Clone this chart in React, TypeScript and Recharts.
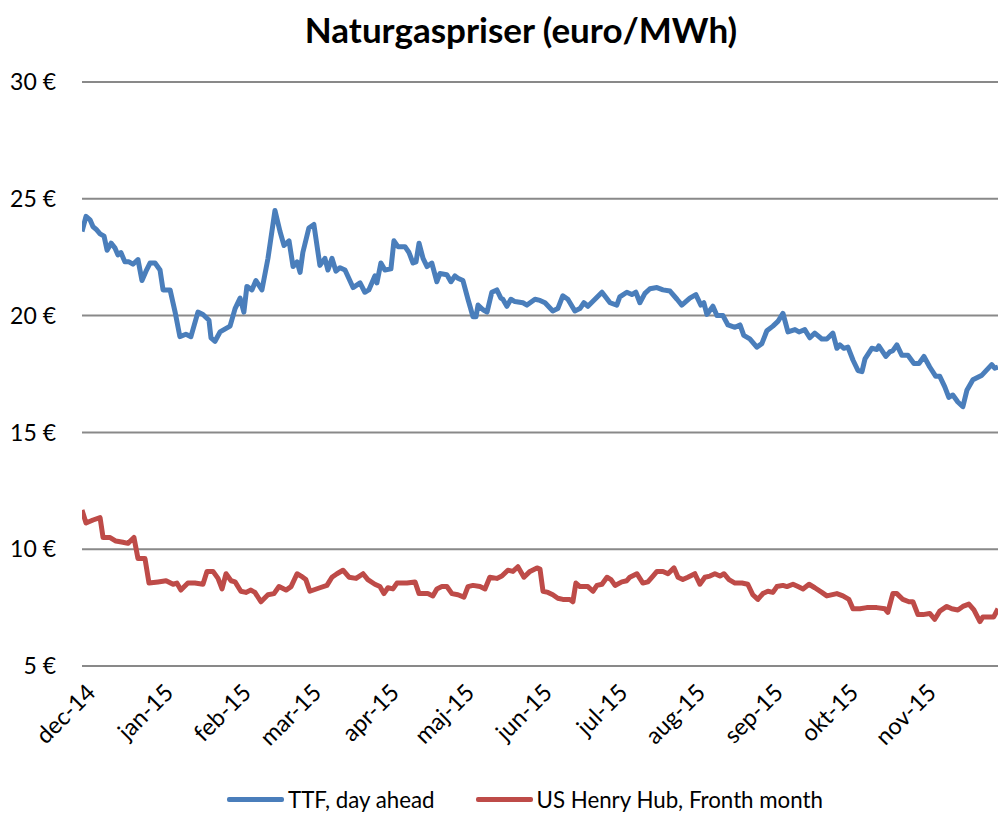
import { LineChart, Line, XAxis, YAxis, CartesianGrid, Legend } from "recharts";

const FONT = "Lato, 'Noto Sans', sans-serif";

// month starts, counted in days from 1 dec 2014
const monthTicks = [0, 31, 62, 90, 121, 151, 182, 212, 243, 274, 304, 335];
const monthLabels = ["dec-14", "jan-15", "feb-15", "mar-15", "apr-15", "maj-15", "jun-15", "jul-15", "aug-15", "sep-15", "okt-15", "nov-15"];
const yTicks = [5, 10, 15, 20, 25, 30];

const seriesNames = ["TTF, day ahead", "US Henry Hub, Fronth month"];
const seriesColors = ["#4a7ebb", "#be4b48"];

const ttfDays = [
  0, 1.6, 3.2, 4.4, 5.6, 7.2, 8.8, 10, 11.6, 13.1,
  14.3, 15.5, 17.1, 18.7, 20.3, 22.3, 23.9, 25.5, 27.1, 29.1,
  31.1, 32.3, 35.1, 37.1, 39, 41.4, 43.4, 46.2, 48.2, 50.6,
  51.4, 53, 55, 59, 61, 63, 64.5, 65.7, 67.7, 69.3,
  71.7, 74.1, 76.9, 78.9, 80.5, 82.5, 84.1, 85.7, 86.9, 88,
  90.4, 92.4, 94.8, 96.8, 98, 99.6, 101.2, 102.8, 104.8, 108,
  110.8, 112.7, 114.3, 116.7, 117.5, 119.1, 120.7, 123.1, 124.3, 125.9,
  128.7, 130.3, 131.9, 133.1, 134.3, 135.9, 137.5, 139.4, 141.4, 142.6,
  145.4, 147, 148.6, 149.8, 151.8, 153.8, 155.8, 157, 157.8, 159.8,
  161.4, 163.3, 165.3, 166.9, 167.7, 169.3, 170.9, 172.5, 175.7, 177.3,
  180.5, 182.5, 184.5, 187.6, 189.6, 191.6, 193.6, 196.4, 198.4, 200,
  201.6, 204.4, 207.2, 210.4, 213.1, 214.3, 217.1, 219.1, 220.7, 222.3,
  224.3, 226.3, 229.1, 231.5, 234.3, 237.1, 239, 242.2, 244.6, 246.6,
  247.8, 249, 251.4, 253, 255.4, 257.4, 260.2, 262.2, 263.7, 266.1,
  268.9, 270.9, 272.9, 275.3, 277.3, 279.3, 281.3, 284.1, 285.7, 288,
  290, 292, 294.8, 296.8, 299.2, 300.8, 302, 303.6, 305.2, 307.2,
  309.2, 310.8, 312, 314.7, 316.7, 317.5, 320.3, 321.9, 323.1, 324.7,
  326.7, 329.1, 331.5, 333.5, 335.5, 337.8, 340.2, 341.8, 343.8, 345.4,
  347, 349, 351, 352.6, 355, 358.6, 362.5, 363.7, 365,
];
const ttfValues = [
  23.6, 24.25, 24.1, 23.8, 23.7, 23.5, 23.4, 22.8, 23.1, 22.9,
  22.6, 22.7, 22.3, 22.3, 22.2, 22.4, 21.5, 21.9, 22.25, 22.25,
  21.95, 21.1, 21.1, 20.15, 19.1, 19.2, 19.1, 20.15, 20.05, 19.8,
  19.05, 18.9, 19.3, 19.55, 20.3, 20.75, 20.15, 21.25, 21.1, 21.5,
  21.1, 22.45, 24.5, 23.6, 23.0, 23.2, 22.1, 22.3, 21.85, 22.7,
  23.75, 23.9, 22.15, 22.45, 21.95, 22.45, 21.9, 22.05, 21.95, 21.2,
  21.4, 21.0, 21.1, 21.7, 21.4, 22.25, 21.95, 22.0, 23.2, 22.95,
  22.95, 22.7, 22.25, 22.3, 23.1, 22.45, 22.1, 22.25, 21.45, 21.8,
  21.75, 21.45, 21.7, 21.6, 21.5, 20.7, 19.95, 19.95, 20.45, 20.25,
  20.15, 21.0, 21.1, 20.75, 20.7, 20.4, 20.7, 20.6, 20.55, 20.45,
  20.7, 20.65, 20.55, 20.2, 20.3, 20.85, 20.7, 20.2, 20.3, 20.55,
  20.4, 20.7, 21.0, 20.55, 20.45, 20.8, 21.0, 20.9, 21.0, 20.55,
  20.95, 21.15, 21.2, 21.1, 21.05, 20.7, 20.45, 20.75, 20.9, 20.45,
  20.55, 20.05, 20.4, 20.0, 20.0, 19.6, 19.5, 19.6, 19.15, 19.0,
  18.65, 18.8, 19.35, 19.55, 19.75, 20.1, 19.3, 19.4, 19.3, 19.4,
  19.05, 19.25, 19.0, 19.0, 19.25, 18.6, 18.75, 18.6, 18.65, 18.1,
  17.65, 17.6, 18.15, 18.6, 18.55, 18.7, 18.25, 18.45, 18.5, 18.75,
  18.3, 18.3, 17.95, 17.95, 18.25, 17.8, 17.4, 17.4, 16.95, 16.5,
  16.6, 16.3, 16.1, 16.8, 17.25, 17.45, 17.9, 17.75, 17.8,
];

const hhDays = [
  0, 1.6, 4.4, 7.2, 8.4, 11.2, 13.5, 16.3, 18.3, 20.7,
  22.3, 25.1, 26.7, 30.3, 33.5, 36.3, 37.8, 39.4, 42.2, 45,
  48.2, 49.8, 52.2, 54.2, 55.8, 57.4, 59.4, 61, 63.3, 65.3,
  67.3, 68.9, 71.3, 74.1, 76.5, 78.5, 81.3, 83.3, 85.7, 87.3,
  89.2, 90.8, 94.8, 97.6, 99.6, 101.6, 104, 106.4, 109.2, 112,
  113.9, 116.7, 118.7, 120.3, 121.9, 123.9, 125.5, 129.5, 132.7, 134.3,
  137.8, 139.8, 141.4, 143.4, 145.4, 147.4, 149.8, 152.2, 153.8, 155.8,
  158.6, 160.6, 162.5, 165.3, 167.3, 169.7, 171.7, 173.7, 176.1, 178.5,
  181.3, 182.5, 183.7, 185.7, 187.6, 189.6, 191.6, 194.4, 195.6, 196.8,
  198.4, 201.6, 203.6, 205.2, 207.2, 209.2, 210.8, 212.4, 215.1, 217.1,
  218.3, 221.1, 223.5, 225.5, 227.5, 229.1, 231.5, 233.5, 235.9, 237.5,
  239.4, 241.4, 244.2, 246.2, 248.2, 250.2, 252.2, 254.2, 255.8, 257.8,
  260.2, 263, 265.3, 267.3, 269.3, 271.3, 273.3, 275.3, 276.9, 279.3,
  280.9, 283.3, 285.3, 287.3, 289.7, 292, 294.8, 296.8, 300.8, 303.2,
  305.6, 307.2, 310, 312.7, 316.7, 319.9, 321.1, 323.1, 324.7, 327.1,
  329.5, 331.1, 333.1, 335.1, 337.8, 339.8, 341.8, 344.6, 346.6, 349,
  351, 353.4, 355.4, 357.8, 359, 361.8, 363.3, 365,
];
const hhValues = [
  11.68, 11.12, 11.25, 11.35, 10.5, 10.5, 10.35, 10.3, 10.25, 10.5,
  9.6, 9.6, 8.55, 8.6, 8.65, 8.5, 8.55, 8.25, 8.55, 8.55,
  8.5, 9.05, 9.05, 8.75, 8.3, 8.95, 8.65, 8.6, 8.2, 8.15,
  8.25, 8.15, 7.75, 8.05, 8.1, 8.4, 8.25, 8.4, 8.95, 8.85,
  8.7, 8.2, 8.35, 8.45, 8.8, 8.95, 9.1, 8.8, 8.75, 8.95,
  8.7, 8.5, 8.4, 8.1, 8.35, 8.3, 8.55, 8.55, 8.6, 8.1,
  8.1, 8.0, 8.3, 8.4, 8.4, 8.1, 8.05, 7.95, 8.4, 8.45,
  8.4, 8.3, 8.8, 8.75, 8.85, 9.1, 9.05, 9.25, 8.8, 9.05,
  9.2, 9.15, 8.2, 8.15, 8.05, 7.9, 7.85, 7.85, 7.75, 8.55,
  8.4, 8.4, 8.2, 8.45, 8.5, 8.8, 8.7, 8.45, 8.6, 8.65,
  8.8, 8.95, 8.55, 8.6, 8.85, 9.05, 9.05, 8.95, 9.2, 8.8,
  8.7, 8.8, 8.95, 8.5, 8.8, 8.85, 8.95, 8.85, 8.95, 8.7,
  8.55, 8.55, 8.5, 8.05, 7.85, 8.1, 8.2, 8.15, 8.4, 8.45,
  8.4, 8.5, 8.4, 8.3, 8.5, 8.35, 8.15, 8.0, 8.1, 8.0,
  7.85, 7.45, 7.45, 7.5, 7.5, 7.45, 7.3, 8.1, 8.1, 7.85,
  7.75, 7.75, 7.2, 7.2, 7.25, 7.0, 7.35, 7.55, 7.45, 7.4,
  7.55, 7.65, 7.4, 6.9, 7.1, 7.1, 7.1, 7.45,
];

const ttfData = ttfDays.map((d, i) => ({ day: d, value: ttfValues[i] }));
const hhData = hhDays.map((d, i) => ({ day: d, value: hhValues[i] }));

const MonthTick = (props: any) => {
  const { x, y, payload } = props;
  const idx = monthTicks.indexOf(payload.value);
  return (
    <g transform={`translate(${x + 15},${y + 20})`}>
      <text textAnchor="end" transform="rotate(-45)" fontSize={23.5} fill="#000" fontFamily={FONT}>
        {monthLabels[idx]}
      </text>
    </g>
  );
};

const ChartLegend = () => (
  <div style={{ display: "flex", justifyContent: "center", alignItems: "center", paddingLeft: 52, fontFamily: FONT, fontSize: 22.3, color: "#000" }}>
    {seriesNames.map((name, i) => (
      <div key={name} style={{ display: "flex", alignItems: "center", marginRight: i === 0 ? 41 : 0 }}>
        <div style={{ width: 57, height: 5, background: seriesColors[i], borderRadius: 2, marginRight: 4 }} />
        <span>{name}</span>
      </div>
    ))}
  </div>
);

export default function App() {
  return (
    <div style={{ position: "absolute", left: 0, top: 0, width: 998, height: 815, background: "#fff" }}>
      <div style={{ position: "absolute", top: 8, left: 0, width: 998, paddingLeft: 44, boxSizing: "border-box", textAlign: "center", fontFamily: FONT, fontWeight: 700, fontSize: 35, lineHeight: "42px", color: "#000" }}>
        Naturgaspriser (euro/MWh)
      </div>
      <LineChart width={998} height={815} margin={{ top: 82, right: 0, bottom: 0, left: 0 }}>
        <CartesianGrid vertical={false} stroke="#898989" strokeWidth={2} />
        <XAxis
          dataKey="day"
          type="number"
          domain={[0, 365]}
          ticks={monthTicks}
          tick={<MonthTick />}
          tickLine={false}
          axisLine={{ stroke: "#898989", strokeWidth: 2 }}
          height={149}
          allowDataOverflow
        />
        <YAxis
          domain={[5, 30]}
          ticks={yTicks}
          width={82}
          axisLine={false}
          tickLine={false}
          tickMargin={20}
          tickFormatter={(v) => `${v} €`}
          tick={{ fontSize: 23, fill: "#000", fontFamily: FONT }}
        />
        <Legend verticalAlign="middle" align="center" layout="horizontal" wrapperStyle={{ top: 786, left: 0, width: 998 }} content={<ChartLegend />} />
        <Line data={ttfData} dataKey="value" name={seriesNames[0]} type="linear" dot={false} stroke={seriesColors[0]} strokeWidth={5} strokeLinejoin="round" isAnimationActive={false} />
        <Line data={hhData} dataKey="value" name={seriesNames[1]} type="linear" dot={false} stroke={seriesColors[1]} strokeWidth={5} strokeLinejoin="round" isAnimationActive={false} />
      </LineChart>
    </div>
  );
}
